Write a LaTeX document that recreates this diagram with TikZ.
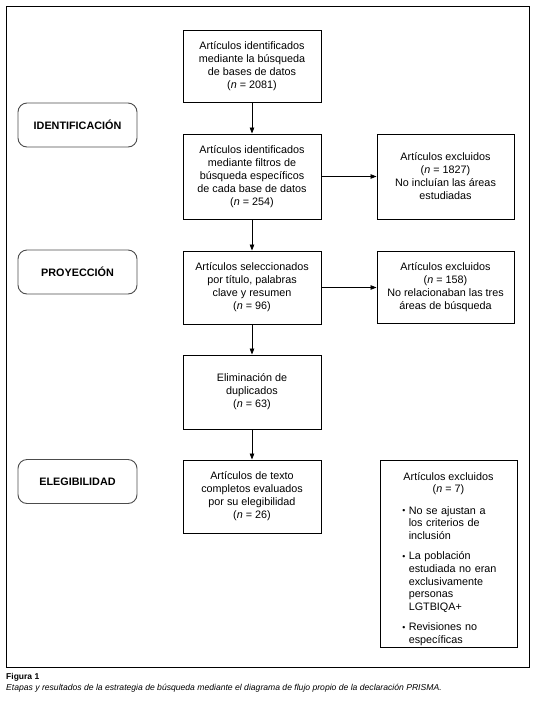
\documentclass[tikz,border=0pt]{standalone}
\usepackage{fontspec}
\setmainfont{Liberation Sans}
\usetikzlibrary{arrows.meta}
\newcommand{\mybul}[1]{\noindent\makebox[6.5pt][l]{\raisebox{0.1ex}{\scalebox{0.8}{\textbullet}}}\parbox[t]{104pt}{\raggedright #1}}
\begin{document}
\begin{tikzpicture}[x=1pt,y=-1pt,
  box/.style={draw, line width=0.9pt, minimum width=138pt, align=center, inner sep=0pt, font=\fontsize{10.8}{13}\selectfont},
  stage/.style={draw=black!70, line width=0.9pt, rounded corners=9pt, minimum width=119pt, minimum height=44pt, inner sep=0pt, font=\bfseries\fontsize{10.8}{12}\selectfont},
  arr/.style={line width=0.8pt, -{Triangle[length=6pt,width=4.5pt]}},
  txt/.style={font=\fontsize{10.8}{12.6}\selectfont, inner sep=0pt}]
\useasboundingbox (0,0) rectangle (538,705);
\node[draw, line width=0.9pt, minimum width=523pt, minimum height=661pt, inner sep=0pt] (frame) at (267.5,336.5) {};
% stages
\node[stage] (ident) at (77.5,125) {IDENTIFICACIÓN};
\node[stage] (proy) at (77.5,272) {PROYECCIÓN};
\node[stage] (eleg) at (77.5,481.5) {ELEGIBILIDAD};
% main boxes
\node[box, minimum height=72pt] (b1) at (252,66) {Artículos identificados\\mediante la búsqueda\\de bases de datos\\(\textit{n} = 2081)};
\node[box, minimum height=85pt] (b2) at (252,176.5) {Artículos identificados\\mediante filtros de\\búsqueda específicos\\de cada base de datos\\(\textit{n} = 254)};
\node[box, minimum height=73pt] (b3) at (252,287.5) {Artículos seleccionados\\por título, palabras\\clave y resumen\\(\textit{n} = 96)};
\node[box, minimum height=74pt] (b4) at (252,392) {Eliminación de\\duplicados\\(\textit{n} = 63)};
\node[box, minimum height=73pt] (b5) at (252,496.5) {Artículos de texto\\completos evaluados\\por su elegibilidad\\(\textit{n} = 26)};
% exclusions
\node[box, minimum width=137pt, minimum height=85pt] (e1) at (445.5,176.5) {Artículos excluidos\\(\textit{n} = 1827)\\No incluían las áreas\\estudiadas};
\node[box, minimum width=137pt, minimum height=72pt] (e2) at (445.5,287.5) {Artículos excluidos\\(\textit{n} = 158)\\No relacionaban las tres\\áreas de búsqueda};
\node[box, minimum width=137pt, minimum height=187pt] (e3) at (448.5,553.5) {};
\node[txt, align=center, anchor=north] (e3h) at ([yshift=-12.5pt]e3.north) {Artículos excluidos\\(\textit{n} = 7)};
\node[txt, anchor=north west, text width=112pt, align=left] (e3l) at ([xshift=22.5pt,yshift=-46.5pt]e3.north west) {%
\mybul{No se ajustan a\\los criterios de\\inclusión}\par\vspace{11.5pt}
\mybul{La población\\estudiada no eran\\exclusivamente\\personas\\LGTBIQA+}\par\vspace{9.5pt}
\mybul{Revisiones no\\específicas}\par};
% arrows
\draw[arr] (b1) -- (b2);
\draw[arr] (b2) -- (b3);
\draw[arr] (b3) -- (b4);
\draw[arr] (b4) -- (b5);
\draw[arr] (b2) -- (e1);
\draw[arr] (b3) -- (e2);
% caption
\node[anchor=west, inner sep=0pt, font=\bfseries\fontsize{8.5}{9}\selectfont] (fig) at (6,677) {Figura 1};
\node[anchor=west, inner sep=0pt, font=\itshape\fontsize{8.6}{9}\selectfont] (cap) at (6,688) {Etapas y resultados de la estrategia de búsqueda mediante el diagrama de flujo propio de la declaración PRISMA.};
\end{tikzpicture}
\end{document}
